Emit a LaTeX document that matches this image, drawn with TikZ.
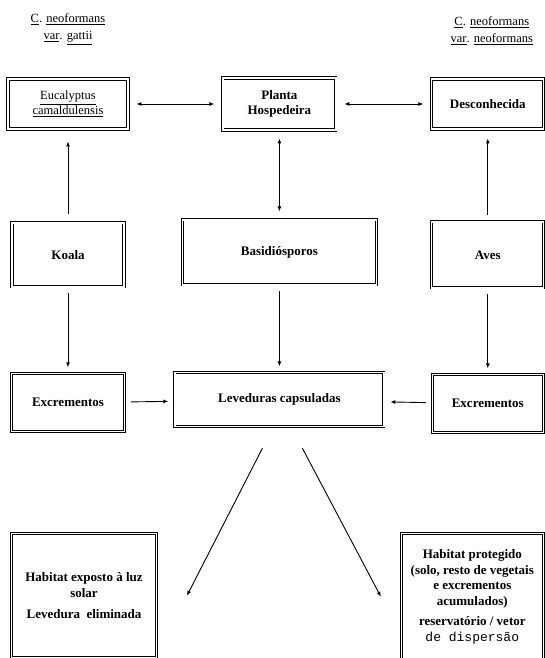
\documentclass[tikz,border=0pt]{standalone}
\usepackage{fontspec}
\setmainfont{Liberation Serif}
\setmonofont{Liberation Mono}
\usetikzlibrary{arrows.meta, positioning, calc}

\begin{document}
\begin{tikzpicture}[
  x=1pt, y=1pt, >={Latex[length=5pt,width=4pt]},
  box/.style={draw, double, double distance=1.3pt, line width=0.9pt, align=center, inner sep=1pt,
    font=\fontsize{13}{15.5}\selectfont\bfseries},
  head/.style={align=center, inner sep=0pt, font=\fontsize{12.5}{17}\selectfont},
  flow/.style={->, line width=0.9pt, shorten <=6pt, shorten >=6pt},
  both/.style={<->, line width=0.9pt, shorten <=8pt, shorten >=8pt},
]
\useasboundingbox (0,0) rectangle (544,658);

% row 1 hosts
\node[box, minimum width=120pt, minimum height=50pt, font=\fontsize{12.5}{15}\selectfont] (euc) at (68,554)
  {\underline{Eucalyptus}\\\underline{camaldulensis}};
\node[box, minimum width=113pt, minimum height=52pt, right=94pt of euc] (planta) {Planta\\Hospedeira};
\node[box, minimum width=112pt, minimum height=50pt, right=95pt of planta] (desc) {Desconhecida};

% variety labels above the outer columns
\node[head, above=34pt of euc] (gattii) {\underline{C}. \underline{neoformans}\\\underline{var}. \underline{gattii}};
\node[head, above=34pt of desc, xshift=4pt] (neof) {\underline{C}. \underline{neoformans}\\\underline{var}. \underline{neoformans}};

% row 2 carriers
\node[box, minimum width=112pt, minimum height=64pt, below=93pt of euc] (koala) {Koala};
\node[box, minimum width=194pt, minimum height=65pt, below=89pt of planta] (basid) {Basidiósporos};
\node[box, minimum width=112pt, minimum height=66pt, below=92pt of desc] (aves) {Aves};

% row 3 excrements and yeast
\node[box, minimum width=113pt, minimum height=58pt, below=86pt of koala] (excrA) {Excrementos};
\node[box, minimum width=209pt, minimum height=54pt, below=87pt of basid] (lev) {Leveduras capsuladas};
\node[box, minimum width=111pt, minimum height=58pt, below=86pt of aves] (excrB) {Excrementos};

% habitats
\node[box, minimum width=145pt, minimum height=124pt, below=101pt of excrA.south west, anchor=north west] (sol)
  {Habitat exposto à luz\\solar\\[6pt]Levedura\ \ eliminada};
\node[box, minimum width=142pt, minimum height=126pt, below=100pt of excrB.south east, anchor=north east] (abrigo)
  {Habitat protegido\\(solo, resto de vegetais\\e excrementos\\acumulados)\\[5pt]reservatório / vetor\\{\mdseries\ttfamily de dispersão}};

% links
\draw[both] (euc) -- (planta);
\draw[both] (planta) -- (desc);
\draw[flow, shorten <=8pt, shorten >=12pt] (koala) -- (euc);
\draw[both] (planta) -- (basid);
\draw[flow, shorten >=9pt] (aves) -- (desc);
\draw[flow] (koala) -- (excrA);
\draw[flow] (basid) -- (lev);
\draw[flow] (aves) -- (excrB);
\draw[flow] (excrA) -- (lev);
\draw[flow] (excrB) -- (lev);

% fork below the yeast box
\coordinate (forkL) at ($(lev.south)+(-17,-21)$);
\coordinate (forkR) at ($(lev.south)+(23,-21)$);
\coordinate (tipL) at ($(sol.east)+(30,0)$);
\coordinate (tipR) at ($(abrigo.west)+(-20,0)$);
\draw[->, line width=0.9pt] (forkL) -- (tipL);
\draw[->, line width=0.9pt] (forkR) -- (tipR);

\end{tikzpicture}
\end{document}
